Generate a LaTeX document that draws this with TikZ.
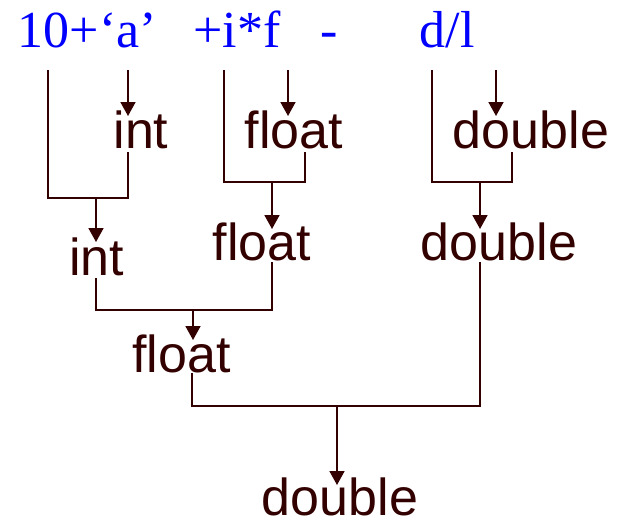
\documentclass[tikz,border=0pt]{standalone}
\usepackage{fontspec}
\setmainfont{Liberation Serif}
\newfontfamily\arialf{Liberation Sans}
\usetikzlibrary{arrows.meta}
\definecolor{maroon}{RGB}{51,0,0}
\definecolor{exprblue}{RGB}{0,0,255}
\tikzset{
  expr/.style={inner sep=0pt, anchor=base, text=exprblue, font=\fontsize{52}{52}\selectfont},
  typ/.style={inner sep=0pt, anchor=base, text=maroon, font=\arialf\fontsize{52}{52}\selectfont},
  wire/.style={draw=maroon, line width=1.8pt},
  arr/.style={wire, -{Triangle[length=14pt,width=15pt]}}
}
\begin{document}
\begin{tikzpicture}[x=1pt,y=-1pt]
\useasboundingbox (0,0) rectangle (625,520);
% expression
\node[expr] (e1) at (87.5,47) {10+‘a’};
\node[expr] (e2) at (237,47) {+i*f};
\node[expr] (e3) at (329,47) {-};
\node[expr] (e4) at (447,47) {d/l};
% type labels
\node[typ] (int1) at (141,148) {int};
\node[typ] (flo1) at (294,148) {float};
\node[typ] (dbl1) at (531,148) {double};
\node[typ] (int2) at (96.5,275) {int};
\node[typ] (flo2) at (262,260) {float};
\node[typ] (dbl2) at (499,260) {double};
\node[typ] (flo3) at (181.5,372) {float};
\node[typ] (dbl4) at (340,515) {double};
% coordinates: top free ends
\coordinate (t1) at (48,70);
\coordinate (t2) at (128,70);
\coordinate (t3) at (224,70);
\coordinate (t4) at (288,70);
\coordinate (t5) at (432,70);
\coordinate (t6) at (496,70);
% arrow tips into row 1
\coordinate (int1top) at (128,116);
\coordinate (flo1top) at (288,116);
\coordinate (dbl1top) at (496,116);
% bottoms of row 1
\coordinate (int1bot) at (128,152);
\coordinate (flo1bot) at (305,152);
\coordinate (dbl1bot) at (512,152);
% junctions
\coordinate (j1) at (96,198);
\coordinate (j2) at (272,182);
\coordinate (j3) at (480,182);
\coordinate (int2top) at (96,242);
\coordinate (flo2top) at (272,229);
\coordinate (dbl2top) at (480,229);
\coordinate (int2bot) at (96,278);
\coordinate (flo2bot) at (272,262);
\coordinate (dbl2bot) at (480,262);
\coordinate (j4) at (193,310);
\coordinate (flo3top) at (193,340);
\coordinate (flo3bot) at (192,373);
\coordinate (j5) at (337,406);
\coordinate (dbl4top) at (337,485);
% row 1 arrows
\draw[arr] (t2) -- (int1top);
\draw[arr] (t4) -- (flo1top);
\draw[arr] (t6) -- (dbl1top);
% brackets row 1
\draw[wire] (t1) |- (int1bot |- j1) -- (int1bot);
\draw[arr] (j1) -- (int2top);
\draw[wire] (t3) |- (flo1bot |- j2) -- (flo1bot);
\draw[arr] (j2) -- (flo2top);
\draw[wire] (t5) |- (dbl1bot |- j3) -- (dbl1bot);
\draw[arr] (j3) -- (dbl2top);
% bracket row 2
\draw[wire] (int2bot) |- (flo2bot |- j4) -- (flo2bot);
\draw[arr] (j4) -- (flo3top);
% bracket row 3
\draw[wire] (flo3bot) |- (dbl2bot |- j5) -- (dbl2bot);
\draw[arr] (j5) -- (dbl4top);
\end{tikzpicture}
\end{document}
